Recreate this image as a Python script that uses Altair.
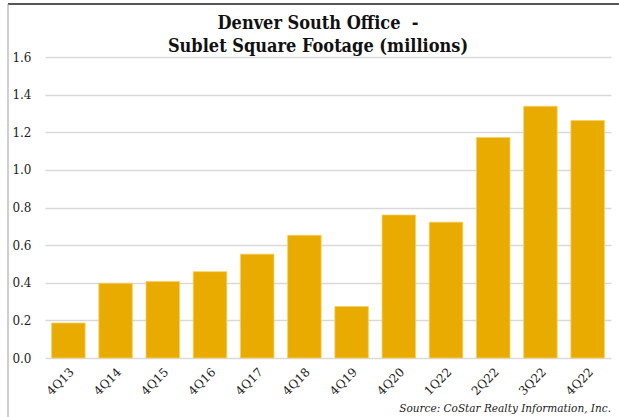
import altair as alt
import pandas as pd

quarters = ["4Q13", "4Q14", "4Q15", "4Q16", "4Q17", "4Q18", "4Q19", "4Q20", "1Q22", "2Q22", "3Q22", "4Q22"]
sublet_msf = [0.186, 0.397, 0.407, 0.459, 0.552, 0.652, 0.274, 0.76, 0.722, 1.172, 1.338, 1.262]
title_line1 = "Denver South Office\u00a0\u00a0-"
title_line2 = "Sublet Square Footage (millions)"
source_note = "Source: CoStar Realty Information, Inc."

df = pd.DataFrame({"quarter": quarters, "value": sublet_msf})

W, H = 566, 301

bars = alt.Chart(df).mark_bar(color="#E9AB00", stroke="#F4D060", strokeWidth=0.8).encode(
    x=alt.X("quarter:N", sort=quarters, title=None,
            scale=alt.Scale(paddingInner=0.29, paddingOuter=0.14),
            axis=alt.Axis(labelAngle=-45, labelFont="DejaVu Serif", labelFontSize=12,
                          labelColor="#222222", ticks=False, domain=False, labelPadding=8)),
    y=alt.Y("value:Q", title=None,
            scale=alt.Scale(domain=[0, 1.6], nice=False),
            axis=alt.Axis(values=[0, 0.2, 0.4, 0.6, 0.8, 1.0, 1.2, 1.4, 1.6], format=".1f",
                          labelFont="DejaVu Serif", labelFontSize=12, labelColor="#222222",
                          ticks=False, domain=False, labelPadding=14,
                          gridColor="#D9D9D9", gridWidth=1.5)),
)

def text_layer(txt, x, y, **kw):
    return alt.Chart(pd.DataFrame({"t": [txt]})).mark_text(**kw).encode(
        text="t:N", x=alt.value(x), y=alt.value(y))

t1 = text_layer(title_line1, 273, -28, align="center", baseline="alphabetic",
                font="DejaVu Serif Condensed", fontWeight="bold", fontSize=18, color="#111111")
t2 = text_layer(title_line2, 273, -5, align="center", baseline="alphabetic",
                font="DejaVu Serif Condensed", fontWeight="bold", fontSize=18, color="#111111")
src = text_layer(source_note, 566, 355, align="right", baseline="alphabetic",
                 font="DejaVu Serif", fontStyle="italic", fontSize=10.5, color="#222222")

top_line = alt.Chart(pd.DataFrame({"a": [0]})).mark_rule(color="#555555", strokeWidth=2).encode(
    x=alt.value(-37), x2=alt.value(580), y=alt.value(-53))
left_line = alt.Chart(pd.DataFrame({"a": [0]})).mark_rule(color="#A0A0A0", strokeWidth=1).encode(
    x=alt.value(-37), y=alt.value(-53), y2=alt.value(365))

chart = alt.layer(bars, t1, t2, src, top_line, left_line).properties(
    width=W, height=H,
    autosize=alt.AutoSizeParams(type="none"),
    padding={"left": 45, "top": 57, "right": 8, "bottom": 59},
).configure_view(stroke=None)

chart.save("out.html", embed_options={"renderer": "svg", "actions": False})
